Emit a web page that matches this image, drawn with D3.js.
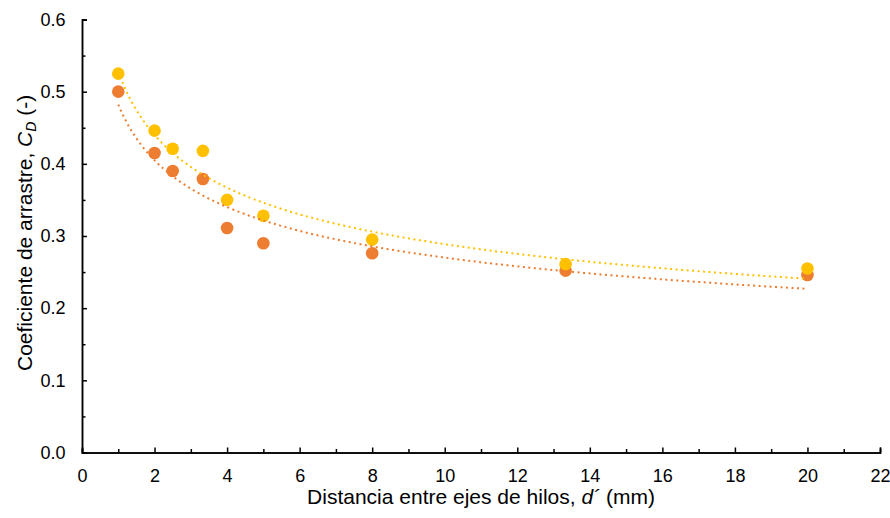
<!DOCTYPE html>
<html><head><meta charset="utf-8">
<script src="https://cdn.jsdelivr.net/npm/d3@7"></script>
<style>body{margin:0;background:#fff}svg{display:block}text{font-family:"Liberation Sans",Arial,sans-serif;fill:#000}</style>
</head><body>
<svg id="c" width="890" height="518"></svg>
<script>
const xValues = [1, 2, 2.5, 3.333, 4, 5, 8, 13.333, 20];
const seriesOrange = [0.500, 0.415, 0.390, 0.379, 0.311, 0.290, 0.276, 0.252, 0.246];
const seriesYellow = [0.525, 0.446, 0.421, 0.418, 0.350, 0.328, 0.295, 0.261, 0.255];
const xTicks = [0,2,4,6,8,10,12,14,16,18,20,22];
const yTicks = [0,0.1,0.2,0.3,0.4,0.5,0.6];
const colors = {orange:"#ED7D31", yellow:"#FFC000"};

const svg = d3.select("#c");
const m = {l:82, r:10, t:19.5, b:65.5};
const W = 890, H = 518;
const x = d3.scaleLinear().domain([0,22]).range([m.l, W - m.r]);
const y = d3.scaleLinear().domain([0,0.6]).range([H - m.b, m.t]);

const xMinor = d3.range(1,22,2);
const yMinor = d3.range(0.05,0.6,0.1);
const gx = svg.append("g").attr("transform",`translate(0,${y(0)})`);
gx.call(d3.axisBottom(x).tickValues(xTicks).tickSize(-5).tickPadding(16.5).tickFormat(d3.format("d")));
gx.append("g").call(d3.axisBottom(x).tickValues(xMinor).tickSize(-3.5).tickFormat(""));
const gy = svg.append("g").attr("transform",`translate(${x(0)},0)`);
gy.call(d3.axisLeft(y).tickValues(yTicks).tickSize(-5).tickPadding(16.5).tickFormat(d3.format(".1f")));
gy.append("g").call(d3.axisLeft(y).tickValues(yMinor).tickSize(-3.5).tickFormat(""));
svg.selectAll(".domain").attr("stroke","#000").attr("stroke-width",1.5);
svg.selectAll(".tick line").attr("stroke","#000").attr("stroke-width",1.5);
svg.selectAll("g").attr("font-size",null).attr("font-family",null);
svg.selectAll(".tick text").style("font-size","18px").style("font-family","'Liberation Sans', Arial, sans-serif");

function powerFit(xs, ys){
  const lx = xs.map(Math.log), ly = ys.map(Math.log);
  const mx = d3.mean(lx), my = d3.mean(ly);
  let sxy=0, sxx=0;
  lx.forEach((v,i)=>{sxy+=(v-mx)*(ly[i]-my); sxx+=(v-mx)*(v-mx);});
  const b = sxy/sxx, a = Math.exp(my - b*mx);
  return t => a*Math.pow(t,b);
}
const series = [
  {vals: seriesOrange, color: colors.orange},
  {vals: seriesYellow, color: colors.yellow}
];
series.forEach(s=>{
  svg.append("g").selectAll("circle").data(xValues.map((d,i)=>[d,s.vals[i]])).join("circle")
    .attr("cx",d=>x(d[0])).attr("cy",d=>y(d[1])).attr("r",6.3).attr("fill",s.color);
});
const line = d3.line().x(d=>x(d[0])).y(d=>y(d[1]));
series.forEach(s=>{
  const f = powerFit(xValues, s.vals);
  const pts = d3.range(0,201).map(i=>{const t = 1 + 19*i/200; return [t, f(t)];});
  svg.append("path").datum(pts).attr("d",line).attr("fill","none")
    .attr("stroke",s.color).attr("stroke-width",2).attr("stroke-dasharray","2,3.5");
});
svg.append("text").attr("x",(x(0)+x(22))/2).attr("y",504).attr("text-anchor","middle").style("font-size","21px")
  .html('Distancia entre ejes de hilos, <tspan font-style="italic">d´</tspan> (mm)');
svg.append("text").attr("transform",`translate(32,371) rotate(-90)`).attr("text-anchor","start").style("font-size","21px")
  .html('Coeficiente de arrastre, <tspan font-style="italic">C</tspan><tspan font-style="italic" style="font-size:14px" dy="4">D</tspan><tspan dy="-4"> (-)</tspan>');
</script>
</body></html>
